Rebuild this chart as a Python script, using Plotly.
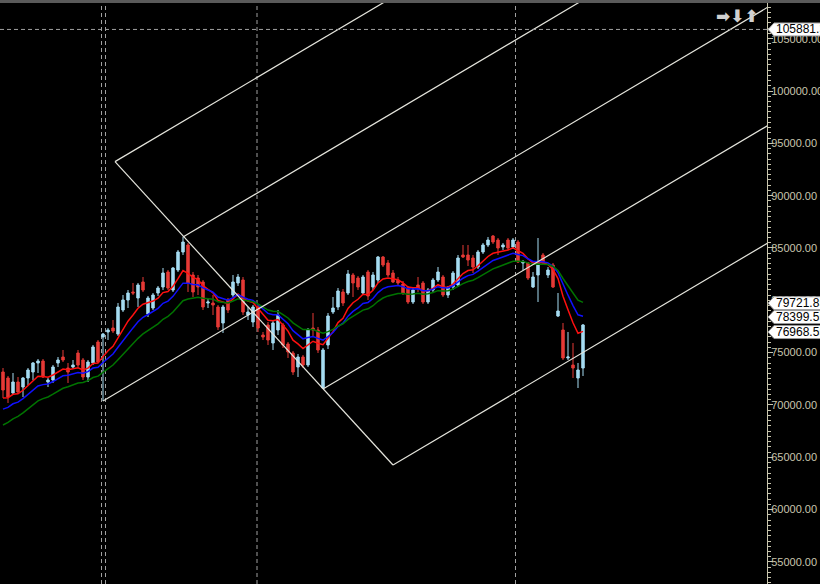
import plotly.graph_objects as go

# ---------------- data ----------------
opens = [73151, 72578, 71144, 72195, 71718, 72578, 73151, 74011, 74202, 72195,
         72386, 74011, 74584, 73533, 73629, 74966, 74297, 72673, 74011, 76017,
         76495, 76973, 77355, 76782, 79075, 80030, 80795, 80222, 81750, 78693,
         79266, 80699, 81273, 82706, 80986, 82897, 84617, 85286, 82419, 82133,
         81750, 79744, 79744, 79362, 77833, 80030, 80508, 81655, 81941, 78597,
         77928, 79362, 76686, 77642, 75922, 77164, 77642, 75826, 74966, 73629,
         74584, 73820, 77355, 77164, 71622, 75731, 78884, 79362, 80795, 80699,
         82419, 82133, 80699, 82706, 81273, 81941, 84139, 83566, 82610, 81941,
         81559, 81177, 79839, 81464, 81655, 79839, 80986, 81941, 82228, 80508,
         81273, 81464, 84330, 84330, 84044, 83184, 84617, 85286, 86145, 85763,
         85095, 85763, 85095, 85572, 83566, 83566, 81273, 82419, 84330, 82419,
         83375, 78502, 77164, 74489, 73820, 72578, 73533]
highs = [73533, 72769, 73055, 72673, 72673, 73533, 74106, 74393, 74393, 72578,
         73820, 74584, 75253, 74011, 74297, 75253, 74489, 74297, 75731, 76208,
         76877, 77355, 78119, 79744, 80508, 80986, 81655, 81655, 82228, 80413,
         80699, 81368, 83088, 82897, 83184, 84808, 86050, 85477, 82706, 82419,
         81941, 80126, 80508, 79553, 79553, 80222, 82419, 82515, 82228, 79362,
         79553, 79553, 76973, 77928, 78119, 79075, 77833, 76017, 75157, 74871,
         74775, 77355, 78788, 77451, 75444, 78788, 80317, 81177, 81082, 82897,
         82610, 82324, 82419, 82897, 82706, 84235, 84235, 83852, 82897, 82228,
         81846, 81368, 81177, 82228, 81846, 81177, 82133, 83184, 82419, 81368,
         82801, 84330, 85286, 85286, 84330, 84808, 85477, 86050, 86241, 85954,
         85477, 85954, 85954, 85763, 83852, 83661, 82706, 85954, 84521, 83184,
         83566, 80699, 77833, 76973, 75922, 74011, 77737]
lows = [70667, 70189, 70953, 71144, 70762, 71909, 72386, 73055, 72578, 71718,
        72100, 73629, 74106, 72100, 73533, 73629, 72386, 72195, 73820, 74011,
        70380, 76208, 76877, 76591, 78884, 79266, 80508, 79362, 80795, 78406,
        79075, 80413, 80986, 80986, 80795, 82706, 84330, 80795, 80317, 80508,
        79075, 79266, 78597, 77164, 76877, 78788, 80317, 81368, 78597, 78119,
        77451, 76973, 76208, 75731, 75253, 76686, 75444, 74489, 72864, 72673,
        73533, 73629, 76495, 74966, 71527, 75349, 78693, 79075, 79457, 80508,
        80317, 80986, 80508, 80030, 80986, 81655, 83184, 82228, 81650, 81464,
        80508, 79648, 79648, 80795, 79648, 79648, 80795, 81750, 80317, 80222,
        80986, 81273, 84044, 83279, 82610, 82993, 84426, 85095, 85381, 84330,
        84808, 84808, 84903, 83566, 82897, 81941, 81177, 79839, 83375, 82133,
        81177, 78406, 74297, 74297, 72578, 71622, 72769]
closes = [71431, 70762, 72195, 71240, 72578, 73342, 74011, 74202, 72673, 72386,
          73629, 74297, 74297, 73151, 73820, 73820, 72673, 74106, 75540, 74106,
          76782, 77164, 77068, 79362, 80030, 80699, 80699, 81464, 80986, 80222,
          80508, 81177, 82610, 81177, 83088, 84617, 85572, 81655, 80795, 81273,
          79362, 79839, 79553, 77451, 79362, 79075, 81750, 82228, 78884, 78884,
          79362, 77355, 76495, 76208, 77833, 78597, 75731, 75062, 73151, 74584,
          73820, 77164, 77164, 75253, 75253, 78502, 79266, 80890, 79744, 82515,
          81655, 81273, 82228, 80413, 82419, 84139, 83375, 82419, 81750, 81655,
          80699, 79839, 80986, 81177, 79839, 80986, 81941, 82706, 80508, 81177,
          82610, 84044, 84139, 83852, 83184, 84617, 85286, 85763, 85572, 84999,
          85286, 84999, 85763, 83661, 83661, 82133, 82228, 83661, 83566, 82897,
          81273, 78979, 74489, 74584, 73533, 73342, 77642]

ema_periods = [8, 13, 21]
ema_seeds = [70667, 69600, 68086]          # indicator values at the first visible bar
ema_colors = ["#ff1010", "#1010ff", "#007400"]

# price tags on the right scale
tag_values = [105881.30, 79721.85, 78399.55, 76968.55]
tag_texts = ["105881.30", "79721.85", "78399.55", "76968.55"]
hline_value = 105881.30

# period separators (bar positions)
separators = [19.7, 20.5, 50.8, 102.5]

# channel drawing: anchor points (bar, price) and common slope (price per bar)
channel_x = [22.4, 36.0, 20.0, 64.0, 78.0]
channel_y = [93250, 86050, 70380, 71527, 64265]
channel_slope = 283.0

Y_MIN, Y_MAX = 52894, 108408
X_MIN, X_MAX = -0.6, 152.8

BULL = "#a6dcf2"
BEAR = "#e63a36"
AXIS_COL = "#c9c6ae"

bars = list(range(len(closes)))


def ema(values, period, seed):
    a = 2.0 / (period + 1)
    out = [seed]
    for v in values[1:]:
        out.append(out[-1] + a * (v - out[-1]))
    return out


fig = go.Figure()
fig.add_trace(go.Candlestick(
    x=bars, open=opens, high=highs, low=lows, close=closes,
    increasing=dict(line=dict(color=BULL, width=1), fillcolor=BULL),
    decreasing=dict(line=dict(color=BEAR, width=1), fillcolor=BEAR),
    whiskerwidth=0, hoverinfo="skip"))

for p, s, c in zip(ema_periods, ema_seeds, ema_colors):
    fig.add_trace(go.Scatter(x=bars, y=ema(closes, p, s), mode="lines",
                             line=dict(color=c, width=1.5), hoverinfo="skip"))

# channel rays
x_far = 170.0
for ax_, ay_ in zip(channel_x, channel_y):
    fig.add_trace(go.Scatter(x=[ax_, x_far], y=[ay_, ay_ + channel_slope * (x_far - ax_)],
                             mode="lines", line=dict(color="#e4e4dc", width=1.2),
                             hoverinfo="skip"))
fig.add_trace(go.Scatter(x=[channel_x[0], channel_x[-1]], y=[channel_y[0], channel_y[-1]],
                         mode="lines", line=dict(color="#e4e4dc", width=1.2),
                         hoverinfo="skip"))

shapes = []
for sx in separators:
    shapes.append(dict(type="line", xref="x", yref="paper", x0=sx, x1=sx, y0=0, y1=1,
                       line=dict(color="#a0a0a0", width=1, dash="4px,3px"), layer="below"))
shapes.append(dict(type="line", xref="paper", yref="y", x0=0, x1=1, y0=hline_value, y1=hline_value,
                   line=dict(color="#a0a0a0", width=1, dash="4px,3px")))

PLOT_W, PLOT_H = 767.0, 581.0
annotations = []
for v, t in zip(tag_values, tag_texts):
    yc = (v - Y_MIN) / (Y_MAX - Y_MIN)
    hh = 6.5 / PLOT_H
    x0 = 1.0 + 1 / PLOT_W
    x1 = 1.0 + 7 / PLOT_W
    x2 = 1.0 + 70 / PLOT_W
    path = (f"M {x0} {yc} L {x1} {yc + hh} L {x2} {yc + hh} "
            f"L {x2} {yc - hh} L {x1} {yc - hh} Z")
    shapes.append(dict(type="path", xref="paper", yref="paper", path=path,
                       fillcolor="white", line=dict(color="#9a9a9a", width=1), layer="above"))
    annotations.append(dict(xref="paper", yref="y", x=1.0 + 7 / PLOT_W, y=v, text=t,
                            showarrow=False, xanchor="left", yanchor="middle",
                            font=dict(color="black", size=12, family="Liberation Sans, Arial")))

# top gray strip
shapes.append(dict(type="rect", xref="paper", yref="paper", x0=0, x1=820 / PLOT_W,
                   y0=1.0, y1=1.0 + 3 / PLOT_H, fillcolor="#5a5a5a", line=dict(width=0)))

# navigation arrows
annotations.append(dict(xref="paper", yref="paper", x=1.0 - 6 / PLOT_W, y=1.0 - 1 / PLOT_H,
                        text="<b>➡⬇⬆</b>", showarrow=False, xanchor="right", yanchor="top",
                        font=dict(color="#d0d0d0", size=17, family="DejaVu Sans")))

fig.update_layout(
    width=820, height=584,
    margin=dict(l=0, r=53, t=3, b=0),
    paper_bgcolor="black", plot_bgcolor="black",
    showlegend=False,
    shapes=shapes, annotations=annotations,
    xaxis=dict(range=[X_MIN, X_MAX], visible=False, rangeslider=dict(visible=False),
               showgrid=False, zeroline=False),
    yaxis=dict(side="right", range=[Y_MIN, Y_MAX], dtick=5000, tick0=0, automargin=False,
               tickformat=".2f", ticks="outside", ticklen=5, tickcolor=AXIS_COL,
               ticklabelstandoff=-4,
               showline=True, linecolor=AXIS_COL, linewidth=1, showgrid=False, zeroline=False,
               tickfont=dict(color=AXIS_COL, size=11, family="Liberation Sans, Arial"),
               minor=dict(dtick=500, ticks="outside", ticklen=3, tickcolor=AXIS_COL, showgrid=False)),
)

fig.write_html("out.html", config={"displayModeBar": False},
               post_script="document.body.style.margin='0';document.body.style.background='black';")
